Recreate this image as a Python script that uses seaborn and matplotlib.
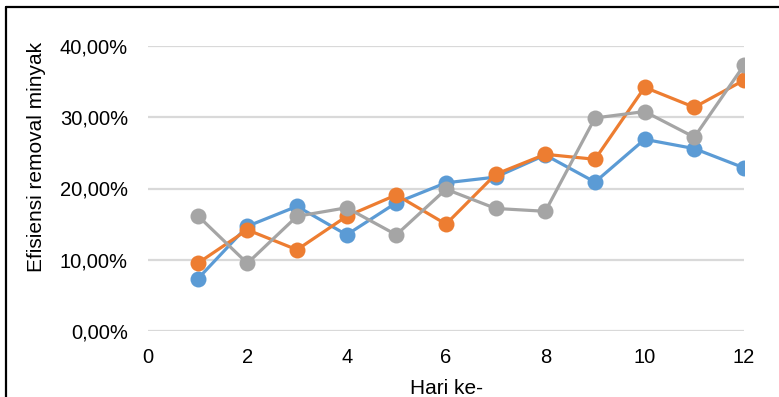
import matplotlib
matplotlib.use("Agg")
import matplotlib.pyplot as plt
from matplotlib.ticker import FuncFormatter, MultipleLocator
from matplotlib.lines import Line2D
import seaborn as sns
import pandas as pd

# Oil removal efficiency (%) per day for three runs
hari = [1, 2, 3, 4, 5, 6, 7, 8, 9, 10, 11, 12]
seri_1 = [7.3, 14.7, 17.5, 13.5, 18.0, 20.8, 21.6, 24.7, 20.9, 26.9, 25.6, 22.9]
seri_2 = [9.5, 14.2, 11.4, 16.1, 19.1, 15.0, 22.0, 24.8, 24.1, 34.2, 31.4, 35.2]
seri_3 = [16.2, 9.5, 16.1, 17.3, 13.5, 19.9, 17.2, 16.8, 29.9, 30.8, 27.2, 37.3]
nama_seri = ["Seri 1", "Seri 2", "Seri 3"]
warna = ["#5B9BD5", "#ED7D31", "#A5A5A5"]

df = pd.concat([
    pd.DataFrame({"hari": hari, "efisiensi": vals, "seri": name})
    for name, vals in zip(nama_seri, [seri_1, seri_2, seri_3])
])

sns.set_theme(style="white")
plt.rcParams["font.family"] = ["Liberation Sans", "DejaVu Sans"]

W, H = 779, 397
fig = plt.figure(figsize=(W / 100, H / 100), dpi=100)
ax = fig.add_axes([148 / W, 66 / H, (744 - 148) / W, (331 - 46) / H])

sns.lineplot(data=df, x="hari", y="efisiensi", hue="seri", palette=warna,
             marker="o", markersize=11.5, markeredgewidth=0, linewidth=2.3,
             legend=False, ax=ax, zorder=3)

ax.set_xlim(0, 12)
ax.set_ylim(0, 40)
ax.xaxis.set_major_locator(MultipleLocator(2))
ax.yaxis.set_major_locator(MultipleLocator(10))
ax.yaxis.set_major_formatter(
    FuncFormatter(lambda v, _: f"{v:.2f}".replace(".", ",") + "%"))
ax.grid(axis="y", color="#D9D9D9", linewidth=1.6, zorder=0)
ax.grid(axis="x", visible=False)
for s in ax.spines.values():
    s.set_visible(False)
ax.tick_params(axis="x", labelsize=14.5, pad=12, length=0, colors="#000000")
ax.tick_params(axis="y", labelsize=14.5, pad=14.5, length=0, colors="#000000")
ax.set_xlabel("")
ax.set_ylabel("")

fig.text(37 / W, 1 - 156.5 / H, "Efisiensi removal minyak", rotation=90,
         ha="center", va="center", fontsize=15, color="#000000")
fig.text(446 / W, 2.5 / H, "Hari ke-", ha="center", va="baseline",
         fontsize=15, color="#000000")

# outer frame (left and top edges)
fig.add_artist(Line2D([5.5 / W, 5.5 / W], [0, 1 - 7 / H], color="black",
                      linewidth=1.6, transform=fig.transFigure))
fig.add_artist(Line2D([5.5 / W, 1], [1 - 7 / H, 1 - 7 / H], color="black",
                      linewidth=1.6, transform=fig.transFigure))

fig.savefig("out.png", dpi=100)
